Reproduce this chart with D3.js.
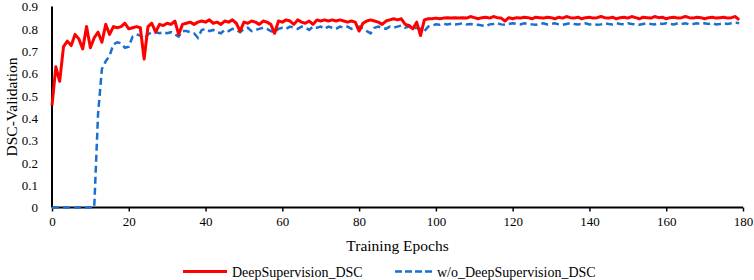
<!DOCTYPE html>
<html>
<head>
<meta charset="utf-8">
<script src="https://cdn.jsdelivr.net/npm/d3@7"></script>
<style>
  body { margin: 0; background: #fff; }
  svg text { font-family: "Liberation Serif", "Times New Roman", serif !important; fill: #000; }
</style>
</head>
<body>
<div id="chart"></div>
<script>
// values, epochs 0..179
var seriesNames = ["DeepSupervision_DSC", "w/o_DeepSupervision_DSC"];

var deepSup = [
  0.457, 0.63, 0.565, 0.72, 0.745, 0.725, 0.775, 0.755, 0.71, 0.81,
  0.715, 0.76, 0.785, 0.74, 0.82, 0.775, 0.81, 0.805, 0.81, 0.825,
  0.80, 0.805, 0.81, 0.805, 0.665, 0.81, 0.825, 0.785, 0.82, 0.815,
  0.825, 0.82, 0.835, 0.775, 0.82, 0.825, 0.83, 0.82, 0.83, 0.835,
  0.83, 0.84, 0.825, 0.83, 0.82, 0.835, 0.83, 0.84, 0.825, 0.79,
  0.83, 0.825, 0.835, 0.83, 0.82, 0.835, 0.83, 0.82, 0.78, 0.835,
  0.83, 0.84, 0.835, 0.82, 0.84, 0.83, 0.825, 0.835, 0.82, 0.84,
  0.835, 0.84, 0.835, 0.84, 0.835, 0.84, 0.835, 0.83, 0.835, 0.83,
  0.79, 0.825, 0.835, 0.84, 0.835, 0.83, 0.82, 0.835, 0.84, 0.845,
  0.84, 0.845, 0.82, 0.815, 0.80, 0.83, 0.77, 0.84, 0.845, 0.845,
  0.848, 0.845, 0.848, 0.85, 0.848, 0.85, 0.848, 0.85, 0.848, 0.855,
  0.85, 0.845, 0.85, 0.852, 0.848, 0.855, 0.85, 0.848, 0.835, 0.85,
  0.845, 0.85, 0.848, 0.852, 0.85, 0.845, 0.852, 0.85, 0.848, 0.852,
  0.85, 0.845, 0.852, 0.848, 0.855, 0.85, 0.848, 0.852, 0.845, 0.85,
  0.852, 0.848, 0.85, 0.855, 0.85, 0.848, 0.852, 0.845, 0.85, 0.852,
  0.848, 0.855, 0.85, 0.845, 0.852, 0.85, 0.848, 0.855, 0.85, 0.852,
  0.845, 0.85, 0.852, 0.848, 0.85, 0.855, 0.85, 0.848, 0.852, 0.85,
  0.845, 0.85, 0.852, 0.848, 0.85, 0.852, 0.848, 0.85, 0.855, 0.84
];

var noDeepSup = [
  0, 0, 0, 0, 0, 0, 0, 0, 0, 0,
  0, 0, 0.42, 0.62, 0.655, 0.68, 0.73, 0.74, 0.735, 0.715,
  0.72, 0.765, 0.775, 0.77, 0.755, 0.775, 0.785, 0.785, 0.78, 0.785,
  0.78, 0.785, 0.775, 0.765, 0.79, 0.79, 0.785, 0.78, 0.76, 0.795,
  0.80, 0.79, 0.795, 0.785, 0.78, 0.795, 0.79, 0.80, 0.795, 0.785,
  0.80, 0.805, 0.79, 0.795, 0.80, 0.805, 0.80, 0.79, 0.785, 0.80,
  0.805, 0.80, 0.81, 0.805, 0.80, 0.81, 0.805, 0.795, 0.81, 0.805,
  0.81, 0.80, 0.81, 0.805, 0.80, 0.81, 0.805, 0.81, 0.80, 0.805,
  0.81, 0.80, 0.79, 0.78, 0.805, 0.81, 0.805, 0.80, 0.81, 0.805,
  0.81, 0.815, 0.805, 0.81, 0.80, 0.805, 0.80, 0.79, 0.81, 0.815,
  0.82, 0.818, 0.822, 0.82, 0.823, 0.82, 0.822, 0.825, 0.82, 0.822,
  0.82, 0.818, 0.815, 0.812, 0.82, 0.822, 0.825, 0.82, 0.818, 0.822,
  0.825, 0.822, 0.82, 0.825, 0.822, 0.82, 0.818, 0.822, 0.825, 0.82,
  0.822, 0.825, 0.82, 0.818, 0.822, 0.825, 0.822, 0.82, 0.822, 0.825,
  0.82, 0.822, 0.818, 0.82, 0.825, 0.822, 0.82, 0.825, 0.822, 0.82,
  0.825, 0.822, 0.82, 0.818, 0.822, 0.825, 0.822, 0.82, 0.825, 0.822,
  0.825, 0.822, 0.82, 0.825, 0.822, 0.825, 0.82, 0.822, 0.825, 0.822,
  0.825, 0.822, 0.825, 0.82, 0.822, 0.825, 0.822, 0.825, 0.828, 0.825
];

var xTicks = [0, 20, 40, 60, 80, 100, 120, 140, 160, 180];
var yTicks = [0, 0.1, 0.2, 0.3, 0.4, 0.5, 0.6, 0.7, 0.8, 0.9];

var svgWidth = 754;
var svgHeight = 280;
var margin = { top: 6.5, right: 11, bottom: 72.5, left: 52 };
var width = svgWidth - margin.left - margin.right;
var height = svgHeight - margin.top - margin.bottom;
var serif = "Liberation Serif, Times New Roman, serif";

var svg = d3.select("#chart")
    .append("svg")
    .attr("width", svgWidth)
    .attr("height", svgHeight);

var g = svg.append("g")
    .attr("transform", "translate(" + margin.left + "," + margin.top + ")");

var x = d3.scaleLinear().domain([0, 180]).range([0, width]);
var y = d3.scaleLinear().domain([0, 0.9]).range([height, 0]);

// y axis: labels only, plus the vertical line
var yAxis = g.append("g")
    .call(d3.axisLeft(y).tickValues(yTicks).tickSize(0).tickPadding(14)
        .tickFormat(function(d) { return d === 0 ? "0" : d3.format(".1f")(d); }));
yAxis.attr("font-family", serif).attr("font-size", 13);
yAxis.select(".domain").remove();

// x axis
var xAxis = g.append("g")
    .attr("transform", "translate(0," + height + ")")
    .call(d3.axisBottom(x).tickValues(xTicks).tickSize(4).tickSizeOuter(0).tickPadding(5));
xAxis.attr("font-family", serif).attr("font-size", 13);
xAxis.select(".domain").remove();
xAxis.selectAll("line").attr("stroke", "#000").attr("stroke-width", 1.5);

g.append("line")
    .attr("x1", 0).attr("x2", 0).attr("y1", 0).attr("y2", height)
    .attr("stroke", "#000").attr("stroke-width", 2);
g.append("line")
    .attr("x1", 0).attr("x2", width).attr("y1", height).attr("y2", height)
    .attr("stroke", "#000").attr("stroke-width", 2);

var line = d3.line()
    .x(function(d, i) { return x(i); })
    .y(function(d) { return y(d); });

g.append("path")
    .datum(noDeepSup)
    .attr("d", line)
    .attr("fill", "none")
    .attr("stroke", "#1a6fd0")
    .attr("stroke-width", 2.5)
    .attr("stroke-dasharray", "7,4");

g.append("path")
    .datum(deepSup)
    .attr("d", line)
    .attr("fill", "none")
    .attr("stroke", "#ff0000")
    .attr("stroke-width", 3)
    .attr("stroke-linejoin", "round");

// axis titles
svg.append("text")
    .attr("x", margin.left + width / 2)
    .attr("y", 251)
    .attr("text-anchor", "middle")
    .attr("font-family", serif)
    .attr("font-size", 15.5)
    .text("Training Epochs");

svg.append("text")
    .attr("transform", "translate(17," + (margin.top + height / 2) + ") rotate(-90)")
    .attr("text-anchor", "middle")
    .attr("font-family", serif)
    .attr("font-size", 15.5)
    .text("DSC-Validation");

// legend
var legend = svg.append("g").attr("transform", "translate(0,271.5)")
    .attr("font-family", serif).attr("font-size", 14);
legend.append("line")
    .attr("x1", 183).attr("x2", 227).attr("y1", 0).attr("y2", 0)
    .attr("stroke", "#ff0000").attr("stroke-width", 3);
legend.append("text")
    .attr("x", 232).attr("y", 5)
    .text(seriesNames[0]);
legend.append("line")
    .attr("x1", 395).attr("x2", 433).attr("y1", 0).attr("y2", 0)
    .attr("stroke", "#1a6fd0").attr("stroke-width", 2.5)
    .attr("stroke-dasharray", "7,3");
legend.append("text")
    .attr("x", 437).attr("y", 5)
    .text(seriesNames[1]);
</script>
</body>
</html>
